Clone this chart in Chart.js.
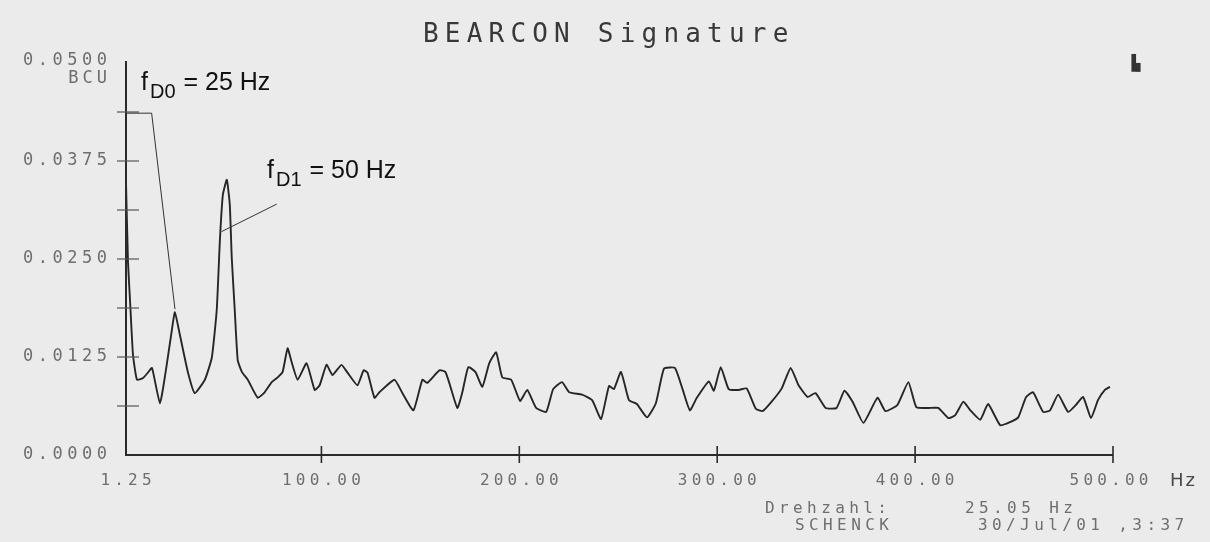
<!DOCTYPE html>
<html>
<head>
<meta charset="utf-8">
<script src="https://cdn.jsdelivr.net/npm/chart.js@4/dist/chart.umd.min.js"></script>
<style>
    html, body { margin: 0; padding: 0; background: #ebebeb; }
    #wrap { width: 1210px; height: 542px; position: relative; }
</style>
</head>
<body>
<div id="wrap"><canvas id="signature-chart"></canvas></div>
<script>
(function () {
    "use strict";

    // Data (Hz / BCU)
    const freqs = [
        1.25, 2.26, 3.27, 4.78, 6.8, 9.8, 12.3, 14.4, 18.4, 21.4,
        24.4, 25.96, 28.5, 32.5, 36.0, 41.1, 44.6, 47.1, 48.7, 50.2,
        52.2, 53.7, 54.7, 56.2, 57.7, 59.8, 62.8, 67.8, 71.3, 74.9,
        77.9, 80.4, 82.9, 84.9, 88.0, 92.5, 96.6, 99.1, 102.6, 105.6,
        110.1, 113.2, 118.2, 121.3, 123.3, 126.8, 129.3, 136.9, 140.9, 146.5,
        151.0, 153.5, 159.6, 162.6, 164.6, 168.7, 171.2, 174.2, 177.8, 181.3,
        184.8, 188.3, 191.4, 195.9, 200.4, 204.0, 208.5, 213.6, 217.1, 221.6,
        225.2, 231.7, 236.8, 241.3, 245.3, 247.8, 251.4, 255.4, 259.4, 264.5,
        269.0, 273.1, 278.6, 282.6, 286.2, 289.7, 295.8, 298.3, 301.8, 305.8,
        310.9, 314.9, 319.5, 323.0, 327.5, 332.6, 337.1, 341.1, 345.7, 349.7,
        354.8, 360.3, 364.3, 368.4, 373.9, 381.0, 385.0, 391.1, 396.6, 400.6,
        406.7, 411.7, 416.8, 420.3, 424.4, 427.9, 432.9, 436.9, 443.0, 448.0,
        452.1, 456.1, 459.6, 464.7, 468.2, 472.3, 477.3, 481.3, 484.9, 488.9,
        492.4, 495.9, 498.5,
    ];
    const amps = [
        0.0348, 0.0246, 0.0198, 0.0128, 0.0096, 0.0098, 0.0105, 0.0111, 0.0066, 0.0108,
        0.0159, 0.0182, 0.0153, 0.0106, 0.0079, 0.0096, 0.0124, 0.0185, 0.0274, 0.0332,
        0.0351, 0.0319, 0.0251, 0.0185, 0.0121, 0.0106, 0.0096, 0.0073, 0.0080, 0.0093,
        0.0099, 0.0106, 0.0136, 0.0119, 0.0096, 0.0117, 0.0083, 0.0089, 0.0115, 0.0102,
        0.0115, 0.0105, 0.0089, 0.0108, 0.0105, 0.0073, 0.0080, 0.0096, 0.0079, 0.0057,
        0.0096, 0.0092, 0.0108, 0.0106, 0.0092, 0.0060, 0.0080, 0.0112, 0.0106, 0.0087,
        0.0117, 0.0131, 0.0099, 0.0096, 0.0069, 0.0083, 0.0060, 0.0055, 0.0084, 0.0093,
        0.0080, 0.0077, 0.0070, 0.0046, 0.0088, 0.0084, 0.0106, 0.0070, 0.0065, 0.0048,
        0.0066, 0.0110, 0.0111, 0.0083, 0.0057, 0.0073, 0.0094, 0.0082, 0.0112, 0.0084,
        0.0083, 0.0085, 0.0059, 0.0056, 0.0068, 0.0085, 0.0111, 0.0089, 0.0074, 0.0079,
        0.0060, 0.0060, 0.0082, 0.0068, 0.0041, 0.0073, 0.0056, 0.0064, 0.0093, 0.0061,
        0.0060, 0.0060, 0.0047, 0.0051, 0.0068, 0.0057, 0.0045, 0.0065, 0.0038, 0.0042,
        0.0048, 0.0074, 0.0080, 0.0055, 0.0057, 0.0077, 0.0055, 0.0064, 0.0074, 0.0047,
        0.0070, 0.0083, 0.0087,
    ];

    const xTicks = [1.25, 100, 200, 300, 400, 500];
    const xTickLabels = ["1.25", "100.00", "200.00", "300.00", "400.00", "500.00"];
    const yTicks = [0, 0.0125, 0.025, 0.0375, 0.05];
    const yTickLabels = ["0.0000", "0.0125", "0.0250", "0.0375", "0.0500"];
    const yMinorTicks = [0.00625, 0.01875, 0.03125, 0.04375];

    // Peak annotations: subscript, rest of label, leader points (Hz, BCU)
    const peakD0 = { sub: "D0", text: " = 25 Hz", leader: [[1.25, 0.0436], [14.2, 0.0436], [26.0, 0.0186]] };
    const peakD1 = { sub: "D1", text: " = 50 Hz", leader: [[77.4, 0.0320], [49.6, 0.0285]] };

    const ink = "#262626";
    const labelGrey = "#6e6e6e";
    const mono = "'DejaVu Sans Mono', monospace";

    function spacedText(ctx, str, x, y, font, color, spacing, align) {
        ctx.save();
        ctx.font = font;
        ctx.fillStyle = color;
        ctx.letterSpacing = spacing + "px";
        ctx.textBaseline = "middle";
        let w = ctx.measureText(str).width - spacing;
        let left = x;
        if (align === "center") left = x - w / 2;
        if (align === "right") left = x - w;
        ctx.textAlign = "left";
        ctx.fillText(str, left, y);
        ctx.restore();
    }

    function peakLabel(ctx, p, x, y) {
        ctx.save();
        ctx.fillStyle = "#111";
        ctx.textBaseline = "alphabetic";
        ctx.font = "25px 'Liberation Sans', Arial, sans-serif";
        ctx.fillText("f", x, y);
        let cx = x + ctx.measureText("f").width + 2;
        ctx.font = "20px 'Liberation Sans', Arial, sans-serif";
        ctx.fillText(p.sub, cx, y + 8);
        cx += ctx.measureText(p.sub).width + 1;
        ctx.font = "25px 'Liberation Sans', Arial, sans-serif";
        ctx.fillText(p.text, cx, y);
        ctx.restore();
    }

    const plotterFrame = {
        id: "plotterFrame",
        beforeDraw(chart) {
            const ctx = chart.ctx;
            ctx.save();
            ctx.fillStyle = "#ebebeb";
            ctx.fillRect(0, 0, chart.width, chart.height);
            ctx.restore();
        },
        afterDatasetsDraw(chart) {
            const ctx = chart.ctx;
            const xs = chart.scales.x;
            const ys = chart.scales.y;
            const x0 = xs.getPixelForValue(1.25);
            const x1 = xs.getPixelForValue(500);
            const y0 = ys.getPixelForValue(0);
            const yTop = ys.getPixelForValue(0.05);

            ctx.save();
            ctx.strokeStyle = "#2a2a2a";
            ctx.lineWidth = 2;
            ctx.beginPath();
            ctx.moveTo(x0, yTop - 2);
            ctx.lineTo(x0, y0);
            ctx.lineTo(x1, y0);
            ctx.stroke();

            // y ticks cross the axis
            ctx.lineWidth = 1.2;
            ctx.strokeStyle = "#555";
            yTicks.concat(yMinorTicks).forEach((v) => {
                if (v === 0 || v === 0.05) return;
                const py = ys.getPixelForValue(v);
                ctx.beginPath();
                ctx.moveTo(x0 - 9, py);
                ctx.lineTo(x0 + 13, py);
                ctx.stroke();
            });
            // x ticks
            ctx.lineWidth = 1.6;
            ctx.strokeStyle = "#2a2a2a";
            xTicks.forEach((v) => {
                if (v === 1.25) return;
                const px = xs.getPixelForValue(v);
                ctx.beginPath();
                ctx.moveTo(px, y0 - 9);
                ctx.lineTo(px, y0 + 8);
                ctx.stroke();
            });

            // leader lines
            ctx.lineWidth = 1;
            ctx.strokeStyle = "#333";
            [peakD0, peakD1].forEach((p) => {
                ctx.beginPath();
                p.leader.forEach(([f, a], i) => {
                    const px = xs.getPixelForValue(f);
                    const py = ys.getPixelForValue(a);
                    if (i === 0) ctx.moveTo(px, py);
                    else ctx.lineTo(px, py);
                });
                ctx.stroke();
            });
            ctx.restore();

            // tick labels
            yTicks.forEach((v, i) => {
                let py = ys.getPixelForValue(v);
                if (v === 0.05) py -= 2;
                spacedText(ctx, yTickLabels[i], 107, py, "17px " + mono, labelGrey, 4.5, "right");
            });
            spacedText(ctx, "BCU", 107, 79, "17px " + mono, labelGrey, 4, "right");
            xTicks.forEach((v, i) => {
                const px = xs.getPixelForValue(v) - (v === 500 ? 4 : 0);
                spacedText(ctx, xTickLabels[i], px, 481, "16px " + mono, labelGrey, 4.2, "center");
            });
            spacedText(ctx, "Hz", 1170, 481, "18px 'DejaVu Sans', sans-serif", "#4a4a4a", 2, "left");

            // title and footer
            spacedText(ctx, "BEARCON Signature", 423, 35, "26px " + mono, "#383838", 6.2, "left");
            spacedText(ctx, "\u2590\u2596", 1127, 64, "15px " + mono, "#333", 0, "left");
            spacedText(ctx, "Drehzahl:", 765, 509, "16px " + mono, labelGrey, 4.4, "left");
            spacedText(ctx, "25.05 Hz", 965, 509, "16px " + mono, labelGrey, 4.4, "left");
            spacedText(ctx, "SCHENCK", 795, 526, "16px " + mono, labelGrey, 4.4, "left");
            spacedText(ctx, "30/Jul/01 ,3:37", 978, 526, "16px " + mono, labelGrey, 4.4, "left");

            // peak labels
            peakLabel(ctx, peakD0, 141, 90);
            peakLabel(ctx, peakD1, 267, 178);
        },
    };

    const ctx = document.getElementById("signature-chart").getContext("2d");
    new Chart(ctx, {
        type: "line",
        data: {
            datasets: [
                {
                    label: "BEARCON Signature",
                    data: freqs.map((f, i) => ({ x: f, y: amps[i] })),
                    borderColor: ink,
                    borderWidth: 1.9,
                    backgroundColor: "transparent",
                    pointRadius: 0,
                    tension: 0.15,
                },
            ],
        },
        options: {
            responsive: true,
            maintainAspectRatio: false,
            animation: false,
            layout: {
                padding: { left: 126, right: 97, top: 63, bottom: 87 },
            },
            plugins: {
                legend: { display: false },
                tooltip: { enabled: false },
            },
            scales: {
                x: { type: "linear", min: 1.25, max: 500, display: false },
                y: { min: 0, max: 0.05, display: false },
            },
        },
        plugins: [plotterFrame],
    });
})();
</script>
</body>
</html>
